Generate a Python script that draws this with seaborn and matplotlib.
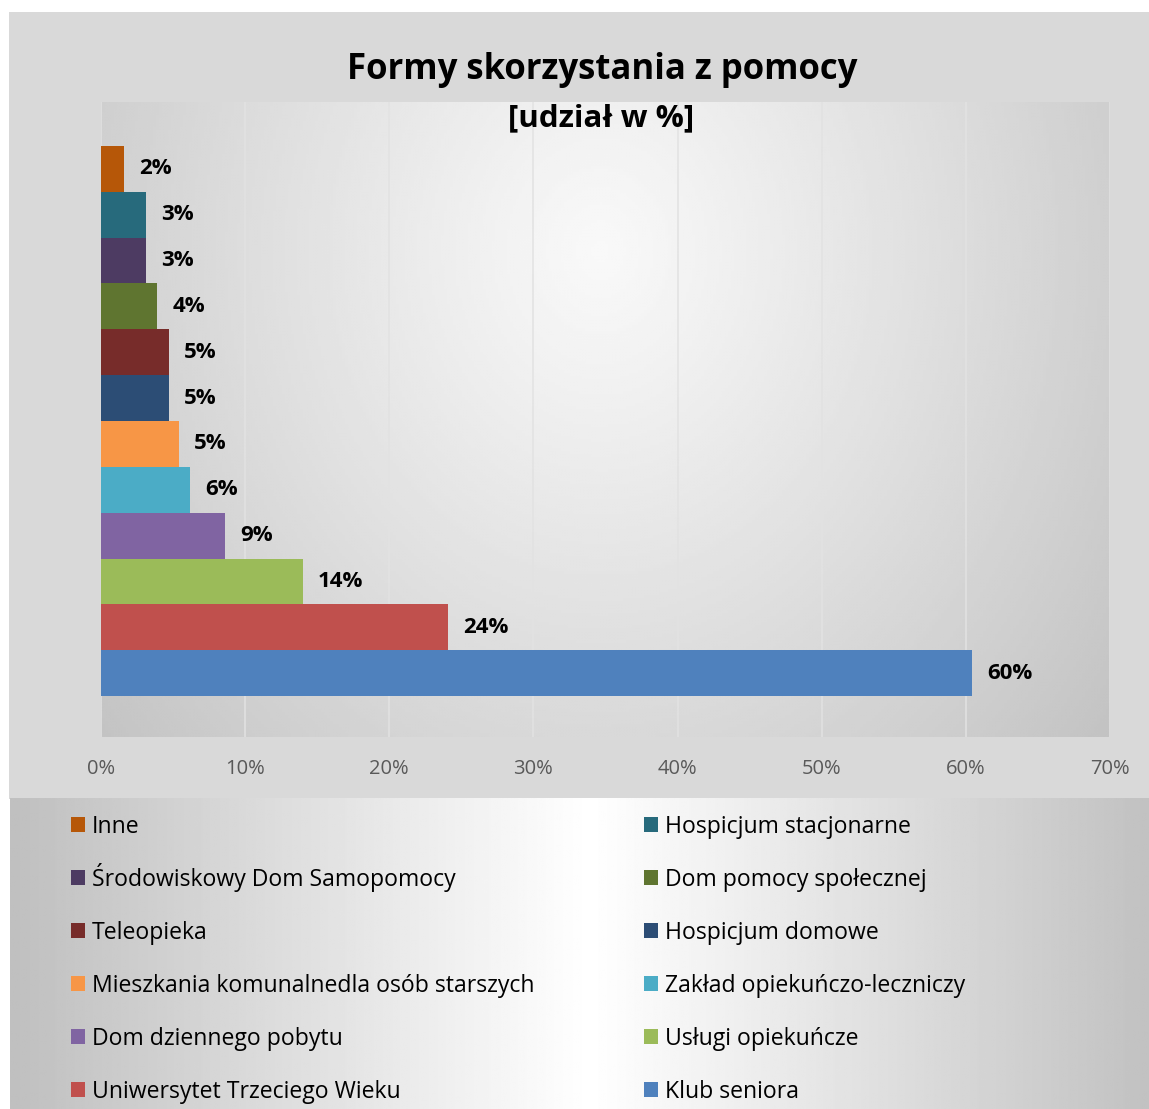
import numpy as np
import pandas as pd
import matplotlib
matplotlib.use("Agg")
import matplotlib.pyplot as plt
import matplotlib.ticker as mticker
from matplotlib.patches import Patch
import seaborn as sns

# data, top bar first
forms = [
    "Inne",
    "Hospicjum stacjonarne",
    "Środowiskowy Dom Samopomocy",
    "Dom pomocy społecznej",
    "Teleopieka",
    "Hospicjum domowe",
    "Mieszkania komunalnedla osób starszych",
    "Zakład opiekuńczo-leczniczy",
    "Dom dziennego pobytu",
    "Usługi opiekuńcze",
    "Uniwersytet Trzeciego Wieku",
    "Klub seniora",
]
shares = [1.6, 3.1, 3.1, 3.9, 4.7, 4.7, 5.4, 6.2, 8.6, 14.0, 24.1, 60.4]
colors = [
    "#B65708", "#276A7C", "#4D3B62", "#5F7530", "#772C2A", "#2C4D75",
    "#F79646", "#4BACC6", "#8064A2", "#9BBB59", "#C0504D", "#4F81BD",
]
x_ticks = [0, 10, 20, 30, 40, 50, 60, 70]

df = pd.DataFrame({"forma": forms, "udzial": shares})

sns.set_theme(style="white")
plt.rcParams["font.family"] = ["Open Sans", "DejaVu Sans"]

W, H = 1149, 1109
fig = plt.figure(figsize=(W / 100, H / 100), dpi=100, facecolor="white")


def px_box(x0, y0, x1, y1):
    return [x0 / W, 1 - y1 / H, (x1 - x0) / W, (y1 - y0) / H]


# grey chart area
chart_bg = fig.add_axes(px_box(9, 12, 1149, 799), zorder=-2)
chart_bg.set_facecolor("#d9d9d9")
chart_bg.set_xticks([])
chart_bg.set_yticks([])
for s in chart_bg.spines.values():
    s.set_visible(False)

# legend area with horizontal reflected gradient
leg_bg = fig.add_axes(px_box(10, 798, 1149, 1109), zorder=-2)
gx = np.linspace(10, 1149, 600)
gval = 1.0 - 0.25 * np.abs(gx - 590) / 580
leg_bg.imshow(np.tile(gval, (10, 1)), cmap="gray", vmin=0, vmax=1,
              aspect="auto", extent=(0, 1, 0, 1))
leg_bg.axis("off")

# plot area background gradient
pos = px_box(101, 102, 1110, 737)
plot_bg = fig.add_axes(pos, zorder=-1)
yy, xx = np.mgrid[102:737:3, 101:1110:3]
r = np.sqrt(((xx - 600) / 520.0) ** 2 + ((yy - 250) / 620.0) ** 2)
pval = np.clip(0.975 - 0.165 * r ** 1.1, 0.76, 1)
plot_bg.imshow(pval, cmap="gray", vmin=0, vmax=1, aspect="auto",
               extent=(0, 1, 0, 1), interpolation="bilinear")
plot_bg.axis("off")

ax = fig.add_axes(pos, zorder=1)
ax.patch.set_visible(False)
sns.barplot(data=df, x="udzial", y="forma", hue="forma", hue_order=forms,
            palette=colors, saturation=1, width=1.0, linewidth=0,
            legend=False, orient="h", ax=ax)

for cont in ax.containers:
    ax.bar_label(cont, fmt="{:.0f}%", padding=11, fontsize=16,
                 fontweight="bold", color="black")

ax.set_xlim(0, 70)
ax.set_ylim(11.5 + 41 / 46, -0.5 - 44 / 46)
ax.set_xticks(x_ticks)
ax.xaxis.set_major_formatter(mticker.PercentFormatter(decimals=0))
ax.tick_params(axis="x", length=0, pad=16, labelsize=14.5, labelcolor="#595959")
ax.set_yticks([])
ax.set_xlabel("")
ax.set_ylabel("")
ax.set_axisbelow(True)
ax.grid(axis="x", color="#e2e2e2", linewidth=1.1)
ax.grid(axis="y", visible=False)
for s in ax.spines.values():
    s.set_visible(False)

# titles
fig.text(602 / W, 1 - 79 / H, "Formy skorzystania z pomocy", ha="center",
         va="baseline", fontsize=25, fontweight="bold", color="black")
fig.text(601 / W, 1 - 126 / H, "[udział w %]", ha="center", va="baseline",
         fontsize=22.5, fontweight="bold", color="black")

# legend, two columns filled row-wise, one entry per row slot
leg_size = 16.6
descent = 0.24 * leg_size * 100 / 72
handles = [Patch(facecolor=c, edgecolor="none") for c in colors]
for i, (h, label) in enumerate(zip(handles, forms)):
    row, col = divmod(i, 2)
    x_left = [71, 644][col]
    baseline = 833 + 53 * row
    fig.legend([h], [label], loc="lower left",
               bbox_to_anchor=(x_left / W, 1 - (baseline + descent) / H),
               frameon=False, fontsize=leg_size, handlelength=0.6,
               handleheight=0.6, handletextpad=0.3, borderpad=0,
               borderaxespad=0, labelcolor="black")

fig.savefig("out.png", dpi=100, facecolor="white")
